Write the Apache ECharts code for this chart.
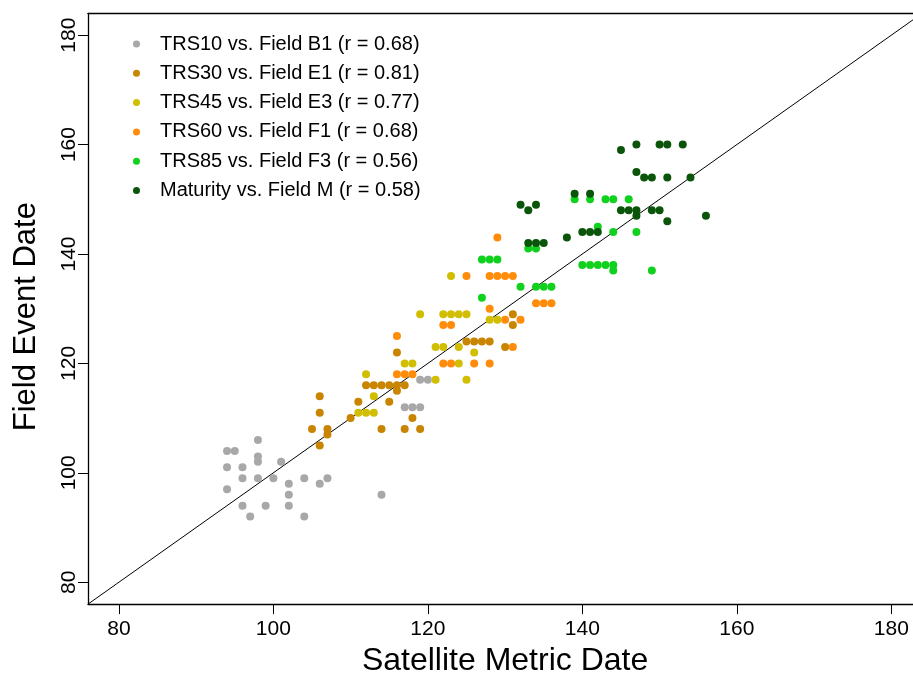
<!DOCTYPE html>
<html><head><meta charset="utf-8">
<script src="https://cdn.jsdelivr.net/npm/echarts@6/dist/echarts.min.js"></script>
<style>html,body{margin:0;padding:0;background:#fff}#c{width:913px;height:673px}</style>
</head><body><div id="c"></div>
<script>
const seriesNames = [
  'TRS10 vs. Field B1 (r = 0.68)',
  'TRS30 vs. Field E1 (r = 0.81)',
  'TRS45 vs. Field E3 (r = 0.77)',
  'TRS60 vs. Field F1 (r = 0.68)',
  'TRS85 vs. Field F3 (r = 0.56)',
  'Maturity vs. Field M (r = 0.58)'
];
const seriesColors = ['#a8a8a8', '#c98400', '#d2be00', '#ff8c0a', '#10d21e', '#0a550a'];

const trs10 = [[94,104],[95,104],[98,106],[94,101],[96,101],[98,103],[98,102],[101,102],[94,97],[96,99],[98,99],[100,99],
  [96,94],[97,92],[99,94],[102,98],[102,96],[102,94],[104,99],[104,92],[106,98],[107,99],[114,96],
  [117,112],[118,112],[119,112],[119,117],[120,117]];
const trs30 = [[105,108],[107,108],[107,107],[106,105],[106,111],[106,114],[110,110],[111,113],
  [112,116],[113,116],[114,116],[115,116],[116,116],[117,116],[114,108],[117,108],[119,108],[118,110],[115,113],
  [116,122],[116,115],[125,124],[126,124],[127,124],[128,124],[131,129],[131,127],[130,123]];
const trs45 = [[111,111],[112,111],[113,111],[112,118],[113,114],[117,120],[118,120],[121,117],[125,117],[119,129],[122,129],[123,129],[124,129],[125,129],
  [121,123],[122,123],[124,123],[126,122],[124,120],[123,136],[128,128],[129,128]];
const trs60 = [[116,125],[116,118],[117,118],[118,118],[122,127],[123,127],[122,120],[123,120],[126,120],[128,120],
  [125,136],[128,136],[129,136],[130,136],[131,136],[129,143],[128,130],[130,128],[132,128],[131,123],
  [134,131],[135,131],[136,131]];
const trs85 = [[127,139],[128,139],[129,139],[127,132],[132,134],[134,134],[135,134],[136,134],[133,141],[134,141],
  [139,150],[141,150],[143,150],[144,150],[146,150],[142,145],[144,144],[147,144],
  [140,138],[141,138],[142,138],[143,138],[144,138],[144,137],[149,137]];
const maturity = [[145,159],[147,160],[150,160],[151,160],[153,160],[147,155],[148,154],[149,154],[151,154],[154,154],
  [139,151],[141,151],[132,149],[134,149],[133,148],[145,148],[146,148],[147,148],[149,148],[150,148],[147,147],
  [151,146],[156,147],[140,144],[141,144],[142,144],[138,143],[133,142],[134,142],[135,142]];

const tickValues = [80, 100, 120, 140, 160, 180];
const axisRange = [76, 184];
const diagLine = [[76, 76], [184, 184]];

const seriesData = [trs10, trs30, trs45, trs60, trs85, maturity];
const FONT = "'Liberation Sans', Arial, sans-serif";

const chart = echarts.init(document.getElementById('c'), null, {renderer: 'canvas'});
const scatterSeries = seriesData.map((d, i) => ({
  name: seriesNames[i], type: 'scatter', data: d, symbol: 'circle', symbolSize: 8,
  itemStyle: {color: seriesColors[i], opacity: 1}, z: 3 + i
}));
chart.setOption({
  animation: false,
  backgroundColor: '#fff',
  grid: {left: 88, top: 13.3, width: 834.2, height: 590.8, show: false,
    outerBoundsMode: 'none', containLabel: false},
  legend: {
    data: seriesNames, orient: 'vertical', left: 128, top: 29, icon: 'circle',
    itemWidth: 7, itemHeight: 7, itemGap: 9.3,
    textStyle: {fontSize: 20, color: '#000', fontFamily: FONT, lineHeight: 20, padding: [0, 0, 0, 15]}
  },
  xAxis: [{
    type: 'value', min: axisRange[0], max: axisRange[1],
    axisLine: {show: true, onZero: false, lineStyle: {color: '#000', width: 1.3}},
    axisTick: {show: true, length: 10, customValues: tickValues, lineStyle: {color: '#000', width: 1}},
    axisLabel: {customValues: tickValues, fontSize: 21, color: '#000', margin: 15, fontFamily: FONT},
    splitLine: {show: false},
    name: 'Satellite Metric Date', nameLocation: 'middle', nameGap: 39,
    nameTextStyle: {fontSize: 32, color: '#000', fontFamily: FONT}
  }, {
    type: 'value', position: 'top', min: axisRange[0], max: axisRange[1],
    axisLine: {show: true, onZero: false, lineStyle: {color: '#000', width: 1.3}},
    axisTick: {show: false}, axisLabel: {show: false}, splitLine: {show: false}
  }],
  yAxis: {
    type: 'value', min: axisRange[0], max: axisRange[1],
    axisLine: {show: true, onZero: false, lineStyle: {color: '#000', width: 1.3}},
    axisTick: {show: true, length: 10, customValues: tickValues, lineStyle: {color: '#000', width: 1}},
    axisLabel: {customValues: tickValues, fontSize: 21, color: '#000', margin: 8, rotate: 90, fontFamily: FONT},
    splitLine: {show: false},
    name: 'Field Event Date', nameLocation: 'middle', nameGap: 46,
    nameTextStyle: {fontSize: 31, color: '#000', fontFamily: FONT, padding: [0, 16, 0, 0]}
  },
  series: [{
    name: 'y = x', type: 'line', data: diagLine, showSymbol: false, symbol: 'none',
    lineStyle: {color: '#000', width: 1}, z: 2, silent: true
  }].concat(scatterSeries)
});
</script>
</body></html>
